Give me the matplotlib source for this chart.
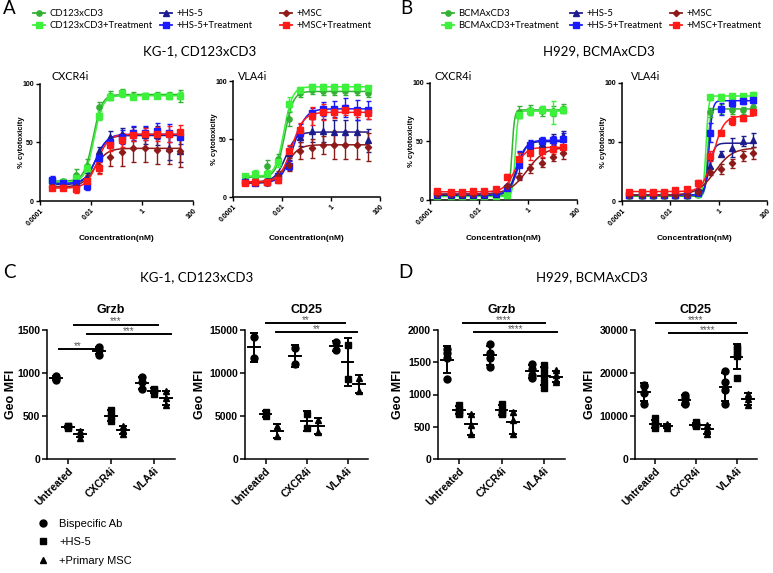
import matplotlib
matplotlib.use("Agg")
import matplotlib.pyplot as plt
from matplotlib.lines import Line2D
import numpy as np

W, H = 773, 573
plt.rcParams["font.family"] = ["Liberation Sans", "DejaVu Sans"]
CAL = ["Lato", "DejaVu Sans"]

# ---- dose response data (A, B) ----
conc_a = [0.0003, 0.0008, 0.0025, 0.0069, 0.02, 0.056, 0.17, 0.46, 1.3, 3.9, 11, 31]
conc_b = [0.0002, 0.0007, 0.002, 0.0057, 0.016, 0.049, 0.14, 0.43, 1.2, 3.7, 10.5, 27]

series_a = ["CD123xCD3", "CD123xCD3+Treatment", "+HS-5", "+HS-5+Treatment", "+MSC", "+MSC+Treatment"]
series_b = ["BCMAxCD3", "BCMAxCD3+Treatment", "+HS-5", "+HS-5+Treatment", "+MSC", "+MSC+Treatment"]
colors = ["#34B034", "#3CF03C", "#1C1C8C", "#1A1AFF", "#8E1A1A", "#FF1A1A"]
markers = ["o", "s", "^", "s", "D", "s"]

a_cxcr4_mean = [
    [17, 17, 22, 30, 80, 90, 93, 90, 90, 91, 90, 90],
    [17, 16, 20, 28, 73, 89, 92, 89, 90, 90, 90, 90],
    [15, 14, 15, 20, 43, 55, 57, 57, 56, 56, 45, 43],
    [18, 15, 15, 13, 37, 50, 55, 58, 58, 60, 58, 55],
    [12, 12, 12, 17, 30, 38, 42, 45, 45, 44, 44, 43],
    [11, 11, 10, 17, 28, 48, 52, 56, 57, 57, 57, 59],
]
a_cxcr4_sd = [
    [2, 2, 5, 6, 5, 4, 3, 3, 2, 2, 3, 5],
    [2, 2, 3, 4, 4, 3, 3, 2, 2, 2, 2, 3],
    [3, 3, 3, 4, 3, 5, 5, 6, 7, 8, 10, 10],
    [3, 3, 3, 4, 4, 5, 6, 6, 6, 7, 8, 6],
    [2, 2, 2, 5, 6, 8, 12, 12, 12, 12, 12, 14],
    [2, 2, 3, 4, 5, 5, 6, 5, 5, 6, 7, 6],
]
a_cxcr4_fit = [(17, 91, 0.012, 2.5), (16, 90, 0.013, 2.5), (14, 56, 0.015, 2.0),
               (15, 57, 0.016, 2.0), (12, 45, 0.014, 1.8), (11, 57, 0.018, 2.0)]

a_vla4_mean = [
    [16, 17, 27, 33, 67, 90, 92, 91, 91, 91, 91, 90],
    [18, 20, 20, 30, 80, 92, 95, 95, 95, 95, 95, 94],
    [14, 13, 13, 17, 38, 52, 57, 57, 56, 56, 56, 49],
    [13, 12, 13, 18, 27, 55, 72, 76, 76, 77, 75, 75],
    [13, 12, 12, 18, 28, 40, 42, 45, 45, 45, 45, 43],
    [12, 13, 13, 15, 40, 58, 70, 73, 73, 75, 73, 72],
]
a_vla4_sd = [
    [3, 3, 5, 4, 6, 4, 3, 3, 3, 3, 3, 4],
    [2, 3, 3, 4, 6, 3, 2, 2, 2, 2, 2, 2],
    [3, 3, 3, 4, 6, 8, 10, 10, 10, 10, 10, 10],
    [2, 2, 2, 3, 4, 8, 5, 6, 7, 8, 9, 8],
    [2, 2, 2, 4, 6, 7, 8, 8, 12, 12, 12, 12],
    [2, 2, 2, 3, 5, 6, 8, 7, 5, 4, 4, 5],
]
a_vla4_fit = [(17, 91, 0.013, 2.5), (18, 95, 0.012, 2.5), (13, 56, 0.014, 2.0),
              (12, 76, 0.03, 1.8), (12, 45, 0.016, 1.8), (13, 73, 0.025, 1.8)]

b_cxcr4_mean = [
    [4, 4, 4, 4, 4, 4, 5, 75, 77, 76, 76, 78],
    [3, 3, 3, 3, 3, 3, 4, 73, 76, 77, 75, 77],
    [4, 4, 4, 4, 4, 5, 12, 35, 45, 48, 52, 55],
    [5, 5, 5, 5, 5, 6, 10, 30, 47, 50, 51, 52],
    [5, 5, 5, 5, 6, 8, 12, 20, 27, 32, 37, 40],
    [8, 7, 7, 8, 8, 9, 20, 35, 40, 42, 44, 45],
]
b_cxcr4_sd = [
    [1, 1, 1, 1, 1, 1, 1, 5, 4, 4, 4, 4],
    [1, 1, 1, 1, 1, 1, 1, 3, 3, 3, 10, 3],
    [1, 1, 1, 1, 1, 1, 2, 6, 5, 5, 4, 4],
    [1, 1, 1, 1, 1, 1, 2, 12, 4, 4, 4, 5],
    [1, 1, 1, 1, 1, 1, 2, 3, 4, 4, 4, 5],
    [1, 1, 1, 1, 1, 1, 2, 5, 6, 5, 5, 5],
]
b_cxcr4_fit = [(4, 77, 0.22, 8), (3, 76, 0.3, 8), (4, 50, 0.35, 2.5),
               (5, 51, 0.4, 2.5), (5, 45, 0.9, 1.2), (7, 45, 0.3, 2.0)]

b_vla4_mean = [
    [4, 4, 4, 4, 4, 4, 5, 75, 78, 77, 77, 80],
    [5, 5, 5, 5, 5, 5, 6, 88, 88, 89, 89, 90],
    [5, 5, 5, 5, 5, 5, 8, 30, 40, 45, 51, 52],
    [5, 5, 5, 5, 5, 5, 7, 58, 78, 83, 85, 86],
    [5, 5, 5, 5, 5, 5, 8, 25, 27, 32, 38, 41],
    [8, 8, 8, 8, 9, 10, 15, 38, 58, 68, 70, 75],
]
b_vla4_sd = [
    [1, 1, 1, 1, 1, 1, 1, 4, 4, 3, 3, 3],
    [1, 1, 1, 1, 1, 1, 1, 2, 3, 2, 2, 2],
    [1, 1, 1, 1, 1, 1, 2, 5, 2, 8, 4, 6],
    [1, 1, 1, 1, 1, 1, 2, 8, 5, 3, 3, 3],
    [1, 1, 1, 1, 1, 1, 2, 3, 4, 4, 4, 5],
    [1, 1, 1, 1, 1, 1, 3, 4, 2, 4, 2, 2],
]
b_vla4_fit = [(4, 78, 0.35, 8), (5, 89, 0.3, 8), (5, 49, 0.4, 4),
              (5, 85, 0.4, 6), (5, 45, 0.7, 1.2), (8, 72, 0.6, 2.0)]

# ---- Geo MFI data (C, D): per marker type, values per group ----
groups = ["Untreated", "CXCR4i", "VLA4i"]
c_grzb_ab = [[920, 945, 965], [1215, 1300, 1265], [810, 955, 890]]
c_grzb_hs5 = [[365, 378, 388], [440, 565, 500], [760, 800, 815]]
c_grzb_msc = [[250, 330, 295], [290, 380, 335], [630, 790, 710]]

c_cd25_ab = [[14200, 11800], [12850, 11050], [13550, 12700]]
c_cd25_hs5 = [[5500, 4950], [5250, 3550], [13300, 9350]]
c_cd25_msc = [[3800, 2700], [4500, 3150], [9450, 7950]]

d_grzb_ab = [[1700, 1650, 1570, 1240], [1790, 1640, 1560, 1430], [1470, 1400, 1310, 1250]]
d_grzb_hs5 = [[840, 760, 720, 700], [860, 760, 720, 700], [1450, 1400, 1300, 1200, 1100]]
d_grzb_msc = [[700, 530, 380], [730, 600, 380], [1380, 1300, 1230, 1200]]

d_cd25_ab = [[17300, 17000, 15300, 12800], [15000, 14200, 13000, 12700], [20500, 18000, 16000, 12800]]
d_cd25_hs5 = [[9500, 8200, 7800, 7300], [8500, 8000, 7800, 7600], [26000, 25500, 24500, 24000, 18800]]
d_cd25_msc = [[8200, 7600, 7300], [7800, 7000, 5800], [15200, 14000, 12500]]

fig = plt.figure(figsize=(W / 100, H / 100), dpi=100)


def px_axes(l, r, b, t):
    return fig.add_axes([l / W, 1 - b / H, (r - l) / W, (b - t) / H])


def dose_panel(box, conc, means, sds, fits, title, title_x):
    ax = px_axes(*box)
    xs = np.logspace(np.log10(conc[0]), np.log10(conc[-1]), 300)
    for i in range(6):
        b, t, ec, h = fits[i]
        ax.plot(xs, b + (t - b) / (1 + (ec / xs) ** h), color=colors[i], lw=1.1, zorder=2)
        ax.errorbar(conc, means[i], yerr=sds[i], fmt=markers[i], color=colors[i],
                    ms=3.8 if markers[i] != "D" else 3.2, capsize=1.8, elinewidth=1.0,
                    capthick=1.0, zorder=3)
    ax.set_xscale("log")
    ax.set_xlim(1e-4, 100)
    ax.set_ylim(0, 100)
    ax.set_yticks([0, 50, 100])
    ax.set_xticks([1e-4, 1e-2, 1, 100])
    ax.set_xticklabels(["0.0001", "0.01", "1", "100"], rotation=45, ha="right",
                       rotation_mode="anchor")
    for lab in ax.get_xticklabels() + ax.get_yticklabels():
        lab.set_fontsize(5)
        lab.set_fontweight("bold")
    ax.tick_params(which="major", length=3, width=1, pad=1.5)
    ax.tick_params(which="minor", length=1.5, width=0.6)
    for s in ["top", "right"]:
        ax.spines[s].set_visible(False)
    for s in ["left", "bottom"]:
        ax.spines[s].set_linewidth(1.1)
    ax.set_ylabel("% cytotoxicity", fontsize=5.5, fontweight="bold")
    ax.yaxis.set_label_coords(-15 / (box[1] - box[0]), 0.5)
    ax.set_xlabel("Concentration(nM)", fontsize=6, fontweight="bold")
    ax.xaxis.set_label_coords(0.5, -(235 - box[2]) / (box[2] - box[3]))
    fig.text(title_x / W, 1 - 77 / H, title, fontsize=7.8, family=CAL, va="center")
    return ax


dose_panel((40, 193, 201, 84), conc_a, a_cxcr4_mean, a_cxcr4_sd, a_cxcr4_fit, "CXCR4i", 51)
dose_panel((233, 380, 197, 81), conc_a, a_vla4_mean, a_vla4_sd, a_vla4_fit, "VLA4i", 238)
dose_panel((430, 577, 200, 83), conc_b, b_cxcr4_mean, b_cxcr4_sd, b_cxcr4_fit, "CXCR4i", 435)
dose_panel((622, 767, 201, 83), conc_b, b_vla4_mean, b_vla4_sd, b_vla4_fit, "VLA4i", 631)


def top_legend(names, x_cols, y_top):
    for c in range(3):
        hs = []
        for i in (2 * c, 2 * c + 1):
            hs.append(Line2D([], [], color=colors[i], marker=markers[i], lw=1.3,
                             ms=3.8 if markers[i] != "D" else 3.2))
        fig.legend(hs, [names[2 * c], names[2 * c + 1]], loc="upper left",
                   bbox_to_anchor=(x_cols[c] / W, 1 - y_top / H), frameon=False,
                   borderpad=0, borderaxespad=0, handlelength=1.3, handletextpad=0.45,
                   labelspacing=0.3, prop={"family": CAL, "size": 6.8})


top_legend(series_a, [33, 160, 280], 9)
top_legend(series_b, [442, 570, 670], 9)

# panel letters and subtitles
for letter, x, y in [("A", 3, 9), ("B", 400, 9), ("C", 3, 272), ("D", 398, 272)]:
    fig.text(x / W, 1 - y / H, letter, fontsize=13.5, family=CAL, va="center")
fig.text(200 / W, 1 - 51 / H, "KG-1, CD123xCD3", fontsize=9.5, family=CAL, ha="center", va="center")
fig.text(599 / W, 1 - 51 / H, "H929, BCMAxCD3", fontsize=9.5, family=CAL, ha="center", va="center")
fig.text(197 / W, 1 - 277 / H, "KG-1, CD123xCD3", fontsize=9.5, family=CAL, ha="center", va="center")
fig.text(592 / W, 1 - 277 / H, "H929, BCMAxCD3", fontsize=9.5, family=CAL, ha="center", va="center")


def dot_panel(box, ab, hs5, msc, top, step, title, sig, ylab_px):
    ax = px_axes(*box)
    offsets = [-0.28, 0.0, 0.28]
    for k, (data, mk, ms) in enumerate([(ab, "o", 5.0), (hs5, "s", 4.8), (msc, "^", 4.8)]):
        for g in range(3):
            vals = np.array(data[g], dtype=float)
            x = g + offsets[k]
            ax.plot([x] * len(vals), vals, mk, color="black", ms=ms, ls="none", zorder=3,
                    clip_on=False)
            m = vals.mean()
            s = vals.std(ddof=1)
            ax.plot([x - 0.14, x + 0.14], [m, m], color="black", lw=1.4, zorder=4)
            ax.errorbar([x], [m], yerr=[s], fmt="none", ecolor="black", elinewidth=1.4,
                        capsize=2.6, capthick=1.4, zorder=4)
    ax.set_xlim(-0.5, 2.5)
    ax.set_ylim(0, top)
    ax.set_yticks(np.arange(0, top + 1, step))
    ax.set_xticks([0, 1, 2])
    ax.set_xticklabels(groups, rotation=45, ha="right", rotation_mode="anchor")
    for lab in ax.get_xticklabels() + ax.get_yticklabels():
        lab.set_fontsize(7.5)
        lab.set_fontweight("bold")
    ax.tick_params(length=3.5, width=1.1, pad=1.5)
    for s in ["top", "right"]:
        ax.spines[s].set_visible(False)
    for s in ["left", "bottom"]:
        ax.spines[s].set_linewidth(1.1)
    ax.set_ylabel("Geo MFI", fontsize=9, fontweight="bold")
    ax.yaxis.set_label_coords(ylab_px / (box[1] - box[0]), 0.5)
    ax.set_title(title, fontsize=9, fontweight="bold", pad=12.5)
    for x0, x1, y, lab in sig:
        ax.plot([x0, x1], [y, y], color="black", lw=1.4, clip_on=False)
        ax.text((x0 + x1) / 2, y + top * 0.003, lab, ha="center", va="baseline",
                fontsize=7, color="#555555")
    return ax


dot_panel((47, 175, 459, 330), c_grzb_ab, c_grzb_hs5, c_grzb_msc, 1500, 500, "Grzb",
          [(-0.23, 0.67, 1277, "**"), (0.14, 2.09, 1559, "***"), (0.44, 2.4, 1453, "***")], -30)
dot_panel((245, 368, 459, 330), c_cd25_ab, c_cd25_hs5, c_cd25_msc, 15000, 5000, "CD25",
          [(0.0, 1.95, 15800, "**"), (0.26, 2.24, 14770, "**")], -39)
dot_panel((438, 565, 459, 330), d_grzb_ab, d_grzb_hs5, d_grzb_msc, 2000, 500, "Grzb",
          [(0.09, 2.02, 2109, "****"), (0.35, 2.30, 1969, "****")], -34)
dot_panel((635, 757, 459, 330), d_cd25_ab, d_cd25_hs5, d_cd25_msc, 30000, 10000, "CD25",
          [(0.02, 1.98, 31600, "****"), (0.33, 2.26, 29300, "****")], -39)

# bottom marker legend
hs = [Line2D([], [], marker="o", ls="none", color="black", ms=5),
      Line2D([], [], marker="s", ls="none", color="black", ms=4.6),
      Line2D([], [], marker="^", ls="none", color="black", ms=4)]
fig.legend(hs, ["Bispecific Ab", "+HS-5", "+Primary MSC"], loc="upper left",
           bbox_to_anchor=(37 / W, 1 - 519 / H), frameon=False, borderpad=0,
           borderaxespad=0, handlelength=1.0, handletextpad=1.0, labelspacing=0.75,
           fontsize=8)

fig.savefig("out.png", dpi=100)
